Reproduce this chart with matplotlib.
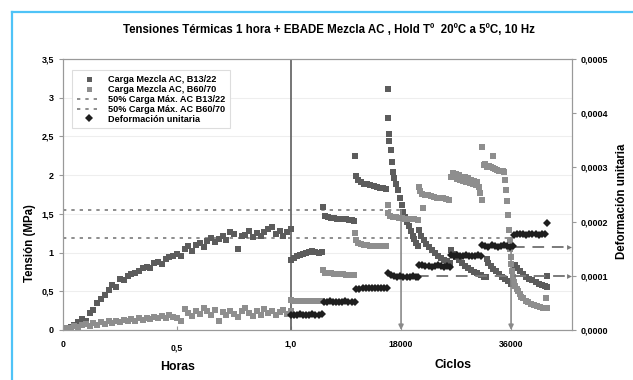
import numpy as np
import matplotlib.pyplot as plt
from matplotlib.lines import Line2D

plt.rcParams['font.family'] = ['Liberation Sans', 'DejaVu Sans']
plt.rcParams['font.weight'] = 'bold'

# eje x compuesto: 0-1 en horas, luego ciclos a partir de 1,0
CICLOS_UNIDAD = 37310.0

# ensayo de tensiones térmicas (1 hora), un punto por minuto
minutos = list(range(61))
carga_b13_h = [0.02, 0.03, 0.04, 0.06, 0.10, 0.14, 0.12, 0.22, 0.26, 0.35,
               0.40, 0.45, 0.52, 0.58, 0.56, 0.66, 0.64, 0.70, 0.72, 0.74,
               0.76, 0.80, 0.82, 0.80, 0.86, 0.88, 0.85, 0.92, 0.94, 0.95,
               0.98, 0.96, 1.04, 1.08, 1.02, 1.10, 1.13, 1.07, 1.15, 1.19,
               1.14, 1.18, 1.22, 1.16, 1.26, 1.24, 1.05, 1.21, 1.23, 1.28,
               1.20, 1.25, 1.22, 1.27, 1.31, 1.33, 1.24, 1.28, 1.22, 1.27,
               1.30]
carga_b60_h = [0.02, 0.03, 0.02, 0.05, 0.04, 0.06, 0.08, 0.05, 0.09, 0.07,
               0.10, 0.08, 0.11, 0.09, 0.12, 0.10, 0.13, 0.11, 0.14, 0.12,
               0.15, 0.13, 0.16, 0.14, 0.17, 0.15, 0.18, 0.16, 0.19, 0.17,
               0.15, 0.12, 0.27, 0.22, 0.18, 0.25, 0.21, 0.29, 0.24, 0.20,
               0.26, 0.12, 0.23, 0.19, 0.25, 0.21, 0.17, 0.24, 0.29, 0.22,
               0.18, 0.24, 0.20, 0.27, 0.22, 0.25, 0.19, 0.23, 0.26, 0.21,
               0.24]

# EBADE: carga por ciclos, mezcla B13/22
ciclos_b13 = [0, 500, 1000, 1500, 2000, 2500, 3000, 3500, 4000, 4500, 5000,
              5300, 5500, 6000, 6500, 7000, 7500, 8000, 8500, 9000, 9500, 10000, 10300,
              10500, 10600, 11000, 11500, 12000, 12500, 13000, 13500, 14000, 14500, 15000, 15500,
              15800, 15900, 16000, 16100, 16300, 16500, 16700, 16900, 17200, 17500, 17800,
              18100, 18400, 18700, 19000, 19300, 19600, 19900, 20200, 20500, 20800,
              20950, 21300, 21700, 22100, 22500, 23000, 23500, 24000, 24500, 25000, 25500, 26000,
              26200, 26600, 27000, 27500, 28000, 28500, 29000, 29500, 30000, 30500, 31000, 31500, 31900,
              32000, 32300, 32700, 33100, 33500, 34000, 34500, 35000, 35500, 36000,
              36600, 37000, 37500, 38000, 38500, 39000, 39500, 40000, 40500, 41000, 41500, 41900,
              41800]
carga_b13_c = [0.90, 0.93, 0.95, 0.97, 0.98, 1.00, 1.01, 1.02, 1.01, 1.00, 1.01,
               1.59, 1.47, 1.46, 1.45, 1.45, 1.44, 1.44, 1.43, 1.43, 1.42, 1.42, 1.41,
               2.25, 1.99, 1.94, 1.91, 1.89, 1.88, 1.87, 1.86, 1.85, 1.84, 1.83, 1.82,
               3.11, 2.74, 2.53, 2.44, 2.33, 2.17, 2.04, 1.96, 1.88, 1.81, 1.70,
               1.62, 1.53, 1.46, 1.40, 1.34, 1.28, 1.22, 1.17, 1.12, 1.09,
               1.29, 1.22, 1.16, 1.11, 1.07, 1.03, 0.99, 0.96, 0.93, 0.91, 0.89, 0.87,
               1.03, 0.98, 0.94, 0.90, 0.86, 0.83, 0.80, 0.77, 0.75, 0.73, 0.71, 0.69, 0.68,
               0.92, 0.87, 0.83, 0.79, 0.76, 0.72, 0.69, 0.66, 0.63, 0.60,
               0.84, 0.80, 0.76, 0.72, 0.69, 0.66, 0.64, 0.62, 0.60, 0.58, 0.57, 0.56,
               0.70]

# EBADE: carga por ciclos, mezcla B60/70
ciclos_b60 = [0, 500, 1000, 1500, 2000, 2500, 3000, 3500, 4000, 4500, 5000,
              5300, 5500, 6000, 6500, 7000, 7500, 8000, 8500, 9000, 9500, 10000, 10300,
              10500, 10600, 11000, 11500, 12000, 12500, 13000, 13500, 14000, 14500, 15000, 15500,
              15800, 15900, 16200, 16700, 17200, 17700, 18200, 18700, 19200, 19700, 20200, 20700,
              20900, 21100, 21600, 21400, 21900, 22400, 22900, 23400, 23900, 24400, 24900, 25400, 25900,
              26200, 26450, 26700, 26950, 27200, 27450, 27700, 27950, 28200, 28450, 28700,
              28950, 29200, 29450, 29700, 29950, 30200, 30450, 30700, 30950, 31200,
              31300, 31500, 31800, 32100, 32400, 32700, 33000, 33100, 33400, 33700, 34000,
              34300, 34600, 34900,
              35000, 35150, 35300, 35450, 35600, 35750, 35850, 35950, 36050, 36150, 36300,
              36500, 36700, 36900, 37100, 37400, 37700, 38000, 38400, 38800, 39300, 39800,
              40300, 40800, 41300, 41800, 41700]
carga_b60_c = [0.39, 0.38, 0.38, 0.38, 0.37, 0.38, 0.38, 0.37, 0.38, 0.38, 0.38,
               0.77, 0.74, 0.73, 0.73, 0.72, 0.72, 0.72, 0.72, 0.71, 0.71, 0.71, 0.71,
               1.25, 1.16, 1.12, 1.11, 1.10, 1.10, 1.09, 1.09, 1.09, 1.08, 1.08, 1.08,
               1.61, 1.51, 1.47, 1.46, 1.46, 1.45, 1.45, 1.44, 1.44, 1.43, 1.43, 1.42,
               1.85, 1.79, 1.58, 1.76, 1.75, 1.74, 1.73, 1.72, 1.71, 1.70, 1.70, 1.69, 1.68,
               1.98, 2.03, 1.97, 2.01, 1.95, 2.00, 1.94, 1.98, 1.93, 1.97, 1.91,
               1.96, 1.90, 1.94, 1.88, 1.93, 1.87, 1.91, 1.85, 1.77, 1.68,
               2.36, 2.13, 2.15, 2.11, 2.12, 2.10, 2.25, 2.09, 2.08, 2.07, 2.06,
               2.06, 2.05, 2.04,
               1.94, 1.81, 1.67, 1.49, 1.29, 1.16, 1.05, 0.94, 0.85, 0.76, 0.68,
               0.62, 0.57, 0.53, 0.50, 0.47, 0.43, 0.41, 0.38, 0.36, 0.34, 0.32,
               0.31, 0.30, 0.29, 0.28, 0.41]

# deformación unitaria (x1e-5) por escalón de carga
ciclos_def = [0, 500, 1000, 1500, 2000, 2500, 3000, 3500, 4000, 4500, 5000,
              5400, 5900, 6400, 6900, 7400, 7900, 8400, 8900, 9400, 9900, 10400,
              10700, 11200, 11700, 12200, 12700, 13200, 13700, 14200, 14700, 15200, 15700,
              15900, 16400, 16900, 17400, 17900, 18400, 18900, 19400, 19900, 20400, 20700,
              21000, 21500, 22000, 22500, 23000, 23500, 24000, 24500, 25000, 25500, 26000,
              26100, 26600, 27100, 27600, 28100, 28600, 29100, 29600, 30100, 30600, 31100,
              31300, 31800, 32300, 32800, 33300, 33800, 34300, 34800, 35300, 35800, 36300,
              36500, 37000, 37500, 38000, 38500, 39000, 39500, 40000, 40500, 41000, 41500,
              41900]
deform_e5 = [2.7, 2.8, 2.8, 2.9, 2.8, 2.7, 2.8, 2.9, 2.8, 2.8, 2.9,
             5.1, 5.2, 5.3, 5.2, 5.1, 5.2, 5.2, 5.3, 5.2, 5.1, 5.2,
             7.5, 7.6, 7.7, 7.7, 7.8, 7.7, 7.8, 7.7, 7.8, 7.8, 7.7,
             10.5, 10.1, 9.9, 9.8, 9.9, 9.8, 9.7, 9.8, 9.9, 9.8, 9.7,
             12.0, 11.9, 11.8, 11.8, 11.7, 11.8, 11.9, 11.8, 11.7, 11.8, 11.7,
             13.8, 13.7, 13.8, 13.6, 13.7, 13.8, 13.7, 13.6, 13.7, 13.8, 13.7,
             15.6, 15.5, 15.4, 15.6, 15.5, 15.4, 15.5, 15.6, 15.5, 15.4, 15.5,
             17.6, 17.7, 17.8, 17.7, 17.6, 17.7, 17.8, 17.7, 17.6, 17.7, 17.8,
             19.7]

# 50% de la carga máxima de cada mezcla
limite_b13 = 1.55
limite_b60 = 1.19
ciclos_falla = [18000, 36000]
def_falla_e5 = [10.0, 15.3]
ciclos_def_desde = [20600, 36300]

x_max = 2.232
col_b13 = '#5c5c5c'
col_b60 = '#8e8e8e'
col_lin = '#7a7a7a'
ms_sq = 4.0


def a_x(ciclos):
    return 1.0 + np.asarray(ciclos, dtype=float) / CICLOS_UNIDAD


fig = plt.figure(figsize=(6.33, 3.80), dpi=100)
ax = fig.add_axes([0.0995, 0.1316, 0.8041, 0.7131])
ax2 = ax.twinx()

x_h = np.asarray(minutos) / 60.0

ax.plot(x_h, carga_b13_h, 's', color=col_b13, ms=ms_sq, mew=0, zorder=3)
ax.plot(a_x(ciclos_b13), carga_b13_c, 's', color=col_b13, ms=ms_sq, mew=0, zorder=3,
        label='Carga Mezcla AC, B13/22')
ax.plot(x_h, carga_b60_h, 's', color=col_b60, ms=ms_sq, mew=0, zorder=3)
ax.plot(a_x(ciclos_b60), carga_b60_c, 's', color=col_b60, ms=ms_sq, mew=0, zorder=3,
        label='Carga Mezcla AC, B60/70')

# límites del 50% hasta el ciclo de falla
ax.plot([0, a_x(ciclos_falla[0])], [limite_b13, limite_b13], color=col_lin, lw=1.2,
        ls=(0, (2, 3)), label='50% Carga Máx. AC B13/22')
ax.plot([0, a_x(ciclos_falla[1])], [limite_b60, limite_b60], color=col_lin, lw=1.2,
        ls=(0, (2, 3)), label='50% Carga Máx. AC B60/70')

# separación horas / ciclos
ax.axvline(1.0, color='#6a6a6a', lw=1.3, zorder=2)

# ciclos de falla
for c, lim in zip(ciclos_falla, [limite_b13, limite_b60]):
    ax.annotate('', xy=(a_x(c), 0), xytext=(a_x(c), lim),
                arrowprops=dict(arrowstyle='-|>', color='#8a8a8a', lw=1.2,
                                mutation_scale=7, shrinkA=0, shrinkB=0))

ax.set_xlim(0, x_max)
ax.set_ylim(0, 3.5)
ax.set_yticks([0, 0.5, 1, 1.5, 2, 2.5, 3, 3.5])
ax.set_yticklabels(['0', '0,5', '1', '1,5', '2', '2,5', '3', '3,5'])
xt = [0, 0.5, 1.0, a_x(18000), a_x(36000)]
ax.set_xticks(xt)
ax.set_xticklabels(['0', '0,5', '1,0', '18000', '36000'])
ax.get_xticklabels()[1].set_y(-0.015)
ax.tick_params(axis='x', direction='in', length=3, color='#999999', labelsize=6.3, pad=7)
ax.tick_params(axis='y', length=3, color='#999999', labelsize=6.5)
ax.grid(axis='y', color='#eeeeee', lw=0.8)
ax.set_axisbelow(True)
for s in ax.spines.values():
    s.set_color('#999999')

# deformación unitaria en el eje derecho
deform = np.asarray(deform_e5) * 1e-5
ax2.plot(a_x(ciclos_def), deform, 'D', color='#1e1e1e', ms=4.0, mew=0, zorder=4,
         label='Deformación unitaria')
for c, d in zip(ciclos_def_desde, def_falla_e5):
    ax2.plot([a_x(c), x_max - 0.012], [d * 1e-5, d * 1e-5], color='#7a7a7a', lw=1.4,
             ls=(0, (6, 4)), zorder=3)
    ax2.plot(x_max - 0.012, d * 1e-5, '>', color='#7a7a7a', ms=3.5, mew=0, zorder=3)
ax2.set_ylim(0, 0.0005)
ax2.set_yticks([0, 0.0001, 0.0002, 0.0003, 0.0004, 0.0005])
ax2.set_yticklabels(['0,0000', '0,0001', '0,0002', '0,0003', '0,0004', '0,0005'])
ax2.tick_params(axis='y', length=3, color='#999999', labelsize=6.5)
for s in ax2.spines.values():
    s.set_color('#999999')

h1, l1 = ax.get_legend_handles_labels()
h2, l2 = ax2.get_legend_handles_labels()
leg = ax2.legend(h1 + h2, l1 + l2, loc='upper left', bbox_to_anchor=(0.018, 0.958),
                 borderaxespad=0, fontsize=6.6, handlelength=2.6, handletextpad=0.8,
                 labelspacing=0.1, fancybox=False, framealpha=1, edgecolor='#dddddd',
                 borderpad=0.5, markerscale=0.9)
leg.get_frame().set_linewidth(0.8)

fig.text(0.52, 0.922, 'Tensiones Térmicas 1 hora + EBADE Mezcla AC , Hold Tº  20ºC a 5ºC, 10 Hz',
         ha='center', va='center', fontsize=8.3)
fig.text(0.047, 0.36, 'Tensión (MPa)', rotation=90, ha='center', va='center', fontsize=8.3)
fig.text(0.982, 0.47, 'Deformación unitaria', rotation=90, ha='center', va='center', fontsize=8.3)
fig.text(0.28, 0.033, 'Horas', ha='center', va='center', fontsize=8.8)
fig.text(0.716, 0.04, 'Ciclos', ha='center', va='center', fontsize=8.8)

# marco exterior
fig.add_artist(Line2D([12 / 633, 1], [1 - 12 / 380, 1 - 12 / 380], transform=fig.transFigure,
                      color='#4fc3f7', lw=1.6))
fig.add_artist(Line2D([12 / 633, 12 / 633], [0, 1 - 12 / 380], transform=fig.transFigure,
                      color='#4fc3f7', lw=1.6))

fig.savefig('out.png', dpi=100)
